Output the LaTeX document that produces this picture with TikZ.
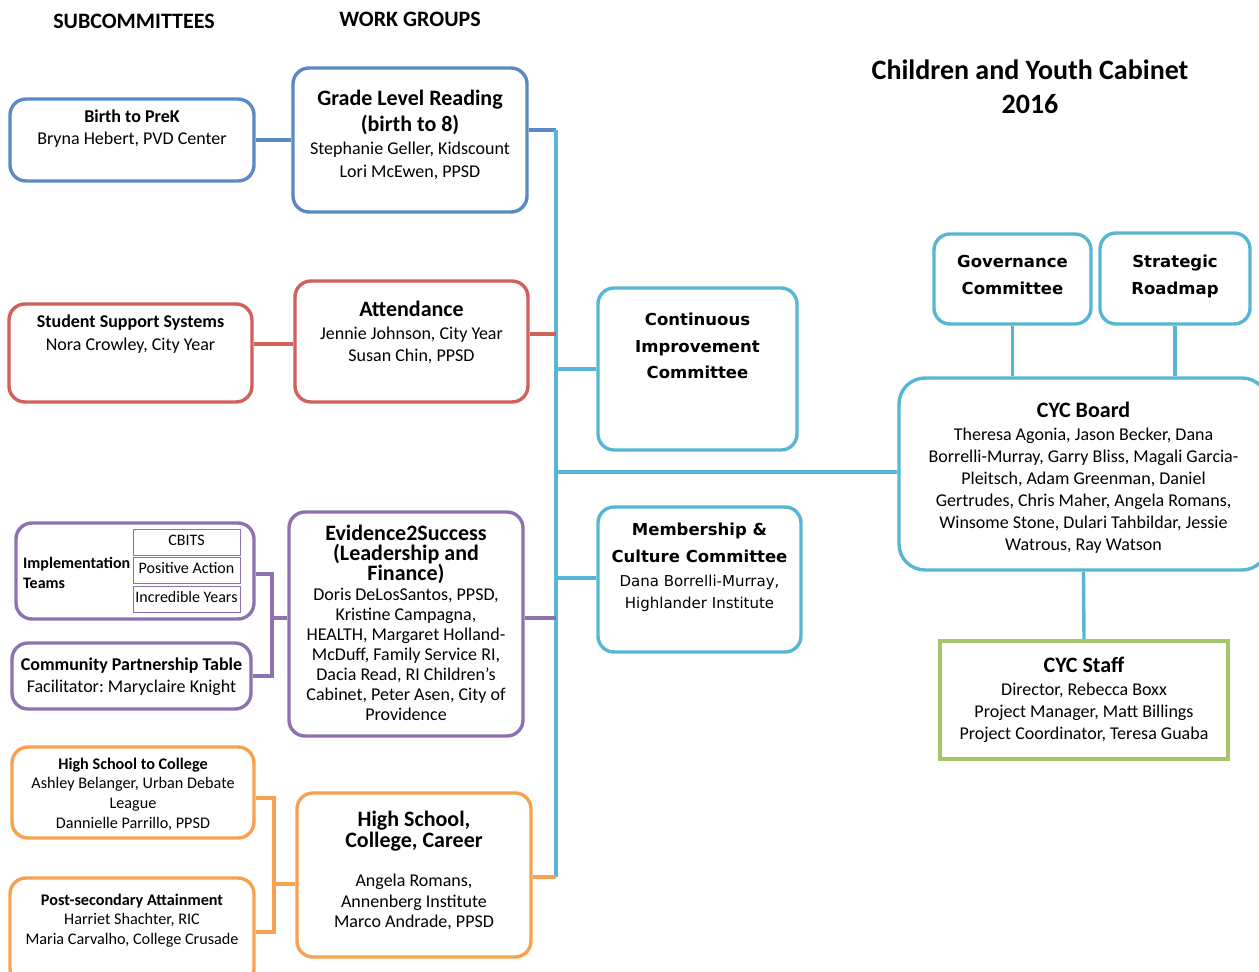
\documentclass[tikz,border=0pt]{standalone}
\usepackage{fontspec}
\setmainfont{Carlito}
\newfontfamily\verd{DejaVu Sans}
\usetikzlibrary{calc}
\pgfdeclarelayer{bg}
\pgfsetlayers{bg,main}
\definecolor{cblue}{HTML}{5A8AC6}
\definecolor{cred}{HTML}{D0605A}
\definecolor{cpurple}{HTML}{8E72B0}
\definecolor{corange}{HTML}{F8A24F}
\definecolor{ccyan}{HTML}{57B7D2}
\definecolor{cgreen}{HTML}{A5C66A}
\newcommand\setfs[2]{\fontsize{#1pt}{#2pt}\selectfont\lineskiplimit=-100pt\frenchspacing}
\newcommand\sst{\rule{0pt}{1em}}
\begin{document}
\begin{tikzpicture}[x=1pt,y=-1pt,
  bx/.style={draw, line width=3.4pt, rounded corners=16pt, fill=white, inner sep=0pt},
  smallbx/.style={draw=cpurple, line width=1pt, inner sep=0pt, minimum width=107, minimum height=26, font=\setfs{16}{18}, text height=11pt, text depth=4pt},
  tx/.style={anchor=north, inner sep=0pt, align=center, yshift=-1pt},
  cn/.style={line width=3.4pt}]
\useasboundingbox (0,0) rectangle (1259,972);
\clip (0,0) rectangle (1259,972);

% headers and title
\node[tx, font=\setfs{22}{26}\bfseries] (hsub) at (134,5.6) {\sst SUBCOMMITTEES};
\node[tx, font=\setfs{22}{26}\bfseries] (hwork) at (410,3.6) {\sst WORK GROUPS};
\node[tx, font=\setfs{28}{34}\bfseries] (title) at (1030,50.4) {\sst Children and Youth Cabinet\\2016};

% boxes
\node[bx, draw=cblue, minimum width=244, minimum height=82] (btp) at (132,140) {};
\node[bx, draw=cblue, minimum width=234, minimum height=144] (glr) at (410,140) {};
\node[bx, draw=cred, minimum width=243, minimum height=98] (sss) at (130.5,353) {};
\node[bx, draw=cred, minimum width=233, minimum height=121] (att) at (411.5,341.5) {};
\node[bx, draw=ccyan, minimum width=199, minimum height=162] (cic) at (697.5,369) {};
\node[bx, draw=ccyan, minimum width=203, minimum height=145] (mcc) at (699.5,579.5) {};
\node[bx, draw=cpurple, minimum width=238, minimum height=96] (imp) at (135,571) {};
\node[smallbx] (cbits) at (186.5,542) {CBITS};
\node[smallbx] (pa) at (186.5,570) {Positive Action};
\node[smallbx] (iy) at (186.5,599) {Incredible Years};
\node[bx, draw=cpurple, minimum width=239, minimum height=66] (cpt) at (131.5,676) {};
\node[bx, draw=cpurple, minimum width=234, minimum height=224] (e2s) at (406,624) {};
\node[bx, draw=corange, minimum width=242, minimum height=91] (hstc) at (133,792.5) {};
\node[bx, draw=corange, minimum width=244, minimum height=107] (psa) at (132,931.5) {};
\node[bx, draw=corange, minimum width=234, minimum height=164] (hscc) at (414,875) {};
\node[bx, draw=ccyan, minimum width=157, minimum height=90] (gov) at (1012.5,279) {};
\node[bx, draw=ccyan, minimum width=150, minimum height=91] (strat) at (1175,278.5) {};
\node[bx, draw=ccyan, minimum width=369, minimum height=192, rounded corners=26pt] (board) at (1083.5,474) {};
\node[bx, draw=cgreen, sharp corners, minimum width=288, minimum height=118] (staff) at (1084,700) {};

% connectors
\coordinate (t0) at (556,130);
\coordinate (tb) at (556,877);
\coordinate (sa) at (270,344);
\coordinate (ja) at (556,334);
\coordinate (jc) at (556,369);
\coordinate (jb) at (556,472);
\coordinate (jm) at (556,578);
\coordinate (je) at (556,618);
\coordinate (pb1) at (272,574);
\coordinate (pb2) at (272,676);
\coordinate (pb3) at (272,618);
\coordinate (ob1) at (274,798);
\coordinate (ob2) at (274,932);
\coordinate (ob3) at (274,884);
\begin{pgfonlayer}{bg}
\draw[cn, cblue] (btp.east) -- (glr.west);
\draw[cn, cblue] (glr.east |- t0) -- (t0);
\draw[cn, ccyan] (t0) -- (tb);
\draw[cn, cred] (sss.east |- sa) -- (att.west |- sa);
\draw[cn, cred] (att.east |- ja) -- (ja);
\draw[cn, ccyan] (jc) -- (cic.west |- jc);
\draw[cn, ccyan] (jb) -- (board.west |- jb);
\draw[cn, ccyan] (jm) -- (mcc.west |- jm);
\draw[cn, cpurple] (e2s.east |- je) -- (je);
\draw[cn, corange] (hscc.east |- tb) -- (tb);
\draw[cn, cpurple] (imp.east |- pb1) -- (pb1) -- (pb2) -- (cpt.east |- pb2);
\draw[cn, cpurple] (pb3) -- (e2s.west |- pb3);
\draw[cn, corange] (hstc.east |- ob1) -- (ob1) -- (ob2) -- (psa.east |- ob2);
\draw[cn, corange] (ob3) -- (hscc.west |- ob3);
\draw[cn, ccyan] (gov.south) -- (gov.south |- board.north);
\draw[cn, ccyan] (strat.south) -- (strat.south |- board.north);
\draw[cn, ccyan] (board.south) -- (staff.north);
\end{pgfonlayer}

% texts
\node[tx, font=\setfs{18}{22}] (btpT) at (132,103.4) {\sst\textbf{Birth to PreK}\\Bryna Hebert, PVD Center};
\node[tx, font=\setfs{22}{26}\bfseries] (glrT) at (410,82.6) {\sst Grade Level Reading\\(birth to 8)};
\node[tx, font=\setfs{18}{23}] (glrB) at (410,135.4) {\sst Stephanie Geller, Kidscount\\Lori McEwen, PPSD};
\node[tx, font=\setfs{18}{23}] (sssT) at (130.5,308.4) {\sst\textbf{Student Support Systems}\\Nora Crowley, City Year};
\node[tx, font=\setfs{22}{26}\bfseries] (attT) at (411.5,293.6) {\sst Attendance};
\node[tx, font=\setfs{18}{22}] (attB) at (411.5,320.4) {\sst Jennie Johnson, City Year\\Susan Chin, PPSD};
\node[tx, font=\verd\setfs{16.5}{26.5}\bfseries] (cicT) at (697.5,308) {\sst Continuous\\Improvement\\Committee};
\node[tx, font=\verd\setfs{16.5}{27}\bfseries] (mccT) at (699.5,518) {\sst Membership \&\\Culture Committee};
\node[tx, font=\verd\setfs{15}{22}] (mccB) at (699.5,570) {\sst Dana Borrelli-Murray,\\Highlander Institute};
\node[tx, anchor=north west, align=left, font=\setfs{16}{20}\bfseries] (impT) at (23,550.8) {\sst Implementation\\Teams};
\node[tx, font=\setfs{18}{22}] (cptT) at (131.5,651.4) {\sst\textbf{Community Partnership Table}\\Facilitator: Maryclaire Knight};
\node[tx, font=\setfs{22}{20}\bfseries] (e2sT) at (406,517.6) {\sst Evidence2Success\\(Leadership and\\Finance)};
\node[tx, font=\setfs{18}{20}] (e2sB) at (406,581.4) {\sst Doris DeLosSantos, PPSD,\\Kristine Campagna,\\HEALTH, Margaret Holland-\\McDuff, Family Service RI,\\Dacia Read, RI Children’s\\Cabinet, Peter Asen, City of\\Providence};
\node[tx, font=\setfs{16.2}{19.7}] (hstcT) at (133,751.7) {\sst\textbf{High School to College}\\Ashley Belanger, Urban Debate\\League\\Dannielle Parrillo, PPSD};
\node[tx, font=\setfs{16.2}{19.5}] (psaT) at (132,887.7) {\sst\textbf{Post-secondary Attainment}\\Harriet Shachter, RIC\\Maria Carvalho, College Crusade};
\node[tx, font=\setfs{22}{21}\bfseries] (hsccT) at (414,803.6) {\sst High School,\\College, Career};
\node[tx, font=\setfs{18}{20.5}] (hsccB) at (414,867.4) {\sst Angela Romans,\\Annenberg Institute\\Marco Andrade, PPSD};
\node[tx, font=\verd\setfs{16.5}{27}\bfseries] (govT) at (1012.5,250) {\sst Governance\\Committee};
\node[tx, font=\verd\setfs{16.5}{27}\bfseries] (stratT) at (1175,250) {\sst Strategic\\Roadmap};
\node[tx, font=\setfs{22}{26}\bfseries] (boardT) at (1083.5,394.6) {\sst CYC Board};
\node[tx, font=\setfs{18}{22}] (boardB) at (1083.5,421.4) {\sst Theresa Agonia, Jason Becker, Dana\\Borrelli-Murray, Garry Bliss, Magali Garcia-\\Pleitsch, Adam Greenman, Daniel\\Gertrudes, Chris Maher, Angela Romans,\\Winsome Stone, Dulari Tahbildar, Jessie\\Watrous, Ray Watson};
\node[tx, font=\setfs{22}{26}\bfseries] (staffT) at (1084,649.6) {\sst CYC Staff};
\node[tx, font=\setfs{18}{22}] (staffB) at (1084,676.4) {\sst Director, Rebecca Boxx\\Project Manager, Matt Billings\\Project Coordinator, Teresa Guaba};
\end{tikzpicture}
\end{document}
